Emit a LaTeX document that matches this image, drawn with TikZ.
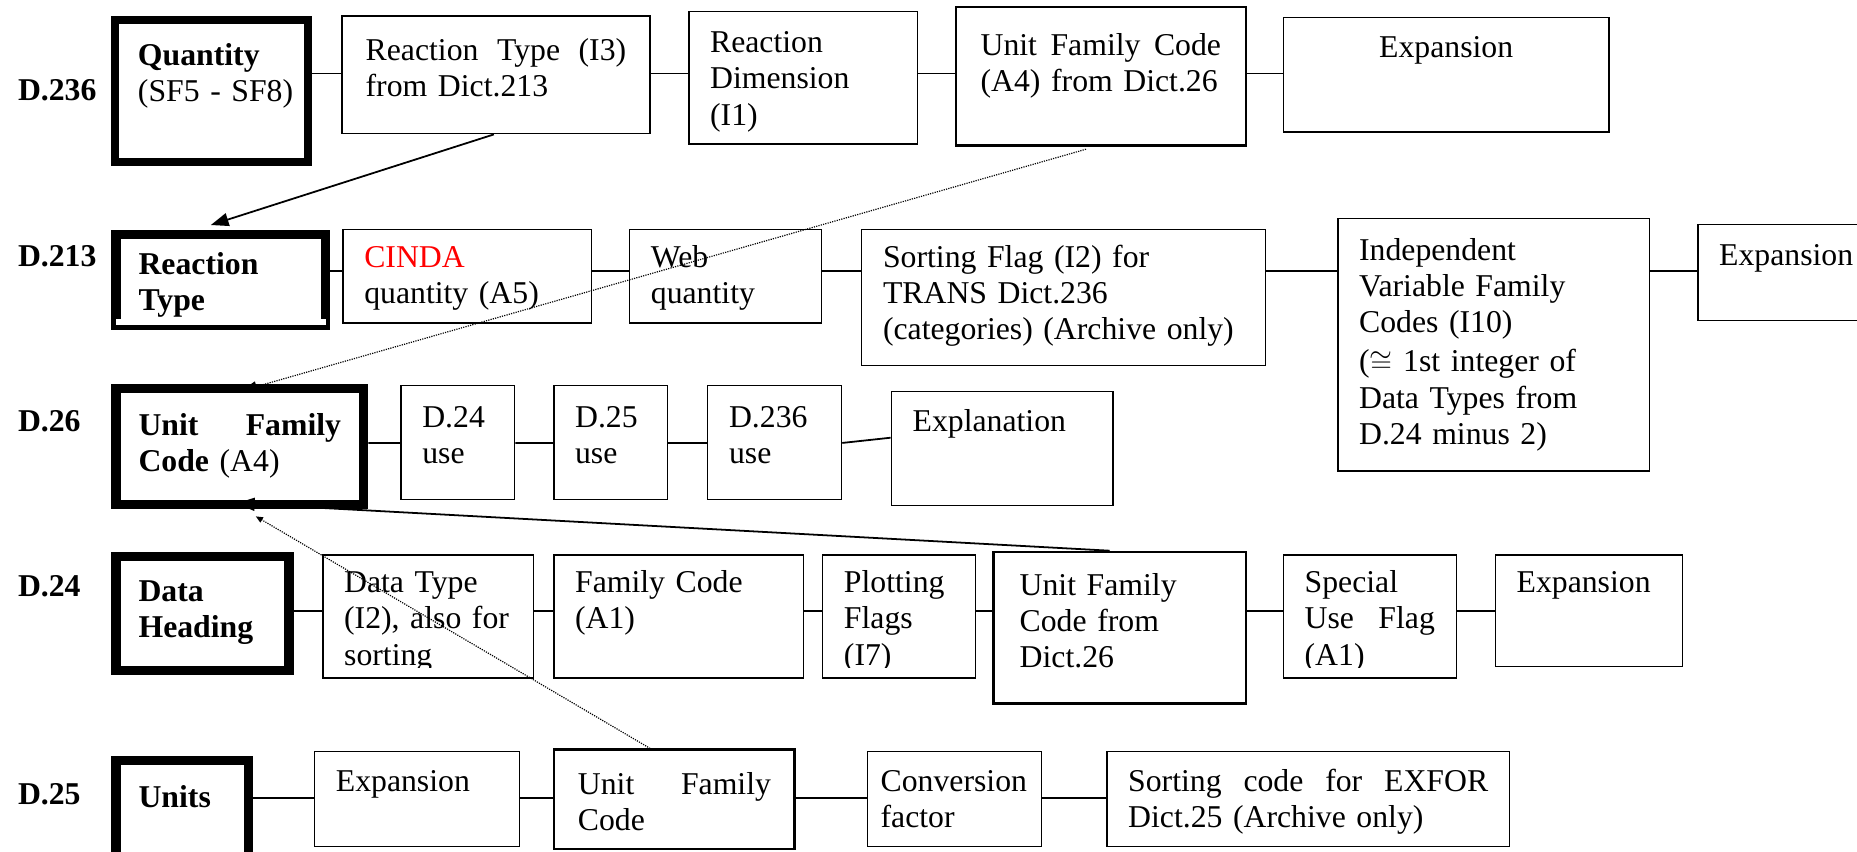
\documentclass[tikz,border=0pt]{standalone}
\usepackage{fontspec}
\setmainfont{Liberation Serif}
\usetikzlibrary{arrows.meta}
\newcommand{\boxfont}{\fontsize{26.8}{30.5}\selectfont}

\begin{document}
\begin{tikzpicture}[x=1pt, y=1pt, font=\boxfont,
    cell/.style={draw, line width=1.2pt, anchor=north west, inner xsep=18pt, inner ysep=0pt, align=left},
    headcell/.style={cell, line width=8pt, inner xsep=19pt, font=\boxfont\bfseries},
    dict/.style={anchor=base west, inner sep=0pt, font=\boxfont\bfseries},
    link/.style={line width=1.5pt},
    ref/.style={line width=1.5pt, -{Triangle[length=15pt, width=11pt]}},
    dref/.style={line width=1pt, densely dotted, -{Triangle[length=13pt, width=9pt]}}]
    \useasboundingbox (0,0) rectangle (1568,-719);
    \clip (0,0) rectangle (1568,-719);

    % dictionary names
    \node[dict] (l236) at (15,-85) {D.236};
    \node[dict] (l213) at (15,-225) {D.213};
    \node[dict] (l26) at (15,-364) {D.26};
    \node[dict] (l24) at (15,-504) {D.24};
    \node[dict] (l25) at (15,-679) {D.25};

    % D.236
    \node[headcell, line width=7pt, inner xsep=19.5pt, text width=124pt, text height=38.5pt, text depth=81.5pt] (q236) at (93.5,-13.5) {Quantity\\{\mdseries\mbox{(SF5 - SF8)}}};
    \node[cell, line width=1.5pt, inner xsep=20pt, text width=220pt, text height=37pt, text depth=62pt] (rt236) at (288,-13) {Reaction\hfill Type\hfill (I3)\\from Dict.213};
    \node[cell, text width=157pt, text height=35pt, text depth=77pt] (rd236) at (581,-9) {Reaction\\Dimension\\(I1)};
    \node[cell, line width=2pt, inner xsep=21pt, text width=203pt, text height=41pt, text depth=76pt] (uf236) at (806,-5) {Unit\hfill Family\hfill Code\\(A4) from Dict.26};
    \node[cell, align=center, text width=239pt, text height=34pt, text depth=63pt] (ex236) at (1083,-14) {Expansion};

    % D.213
    \node[headcell, text width=139pt, text height=34pt, text depth=43pt] (q213) at (94,-194) {Reaction\\Type};
    \node[cell, text width=174pt, text height=32pt, text depth=47pt] (cinda) at (289,-193) {\textcolor{red}{CINDA}\\quantity (A5)};
    \node[cell, text width=126pt, text height=32pt, text depth=47pt] (web) at (531,-193) {Web\\quantity};
    \node[cell, text width=305pt, text height=32pt, text depth=83pt] (sort213) at (727,-193) {Sorting Flag (I2) for\\TRANS Dict.236\\(categories) (Archive only)};
    \node[cell, text width=227pt, text height=35pt, text depth=178pt] (indep) at (1129,-184) {Independent\\Variable Family\\Codes (I10)\\[3pt]($\cong$ 1st integer of\\Data Types from\\D.24 minus 2)};
    \node[cell, text width=124pt, text height=35pt, text depth=46pt] (ex213) at (1433,-189) {Expansion};

    % D.26
    \node[headcell, text width=171pt, text height=40pt, text depth=58pt] (q26) at (94,-324) {Unit\hfill Family\hspace*{5pt}\\Code {\mdseries (A4)}};
    \node[cell, text width=60pt, text height=35pt, text depth=61pt] (u24) at (338,-325) {D.24\\use};
    \node[cell, text width=60pt, text height=35pt, text depth=61pt] (u25) at (467,-325) {D.25\\use};
    \node[cell, text width=77pt, text height=35pt, text depth=61pt] (u236) at (597,-325) {D.236\\use};
    \node[cell, text width=151pt, text height=34pt, text depth=62pt] (expl) at (752,-330) {Explanation};

    % D.24
    \node[headcell, text width=108pt, text height=38pt, text depth=58pt] (q24) at (94,-466) {Data\\Heading};
    \node[cell, text width=142pt, text height=32pt, text depth=72pt] (dtype) at (272,-468) {Data Type\\(I2), also for\\sorting};
    \node[cell, text width=175pt, text height=32pt, text depth=72pt] (fam) at (467,-468) {Family Code\\(A1)};
    \node[cell, text width=93pt, text height=32pt, text depth=72pt] (plot) at (694,-468) {Plotting\\Flags\\(I7)};
    \node[cell, line width=2pt, inner xsep=22pt, text width=169pt, text height=37pt, text depth=91pt] (uf24) at (838,-465) {Unit Family\\Code from\\Dict.26};
    \node[cell, text width=110pt, text height=32pt, text depth=72pt] (spec) at (1083,-468) {Special\\Use\hfill Flag\\(A1)};
    \node[cell, text width=122pt, text height=32pt, text depth=62pt] (ex24) at (1262,-468) {Expansion};

    % D.25
    \node[headcell, text width=74pt, text height=40pt, text depth=51pt] (q25) at (94,-638) {Units};
    \node[cell, text width=137pt, text height=34pt, text depth=46pt] (ex25) at (265,-634) {Expansion};
    \node[cell, line width=2pt, inner xsep=20pt, text width=163pt, text height=38pt, text depth=46pt] (uf25) at (467,-632) {Unit\hfill Family\\Code};
    \node[cell, inner xsep=11pt, text width=125pt, text height=34pt, text depth=46pt] (conv) at (732,-634) {Conversion\\factor};
    \node[cell, text width=304pt, text height=34pt, text depth=46pt] (sort25) at (934,-634) {Sorting\hfill code\hfill for\hfill EXFOR\\Dict.25 (Archive only)};

    % row lines
    \coordinate (r1) at (0,-62);
    \coordinate (r2) at (0,-229);
    \coordinate (r3) at (0,-374);
    \coordinate (r4) at (0,-516);
    \coordinate (r5) at (0,-674);
    \draw[link] (q236.east |- r1) -- (rt236.west |- r1) (rt236.east |- r1) -- (rd236.west |- r1)
        (rd236.east |- r1) -- (uf236.west |- r1) (uf236.east |- r1) -- (ex236.west |- r1);
    \draw[link] (q213.east |- r2) -- (cinda.west |- r2) (cinda.east |- r2) -- (web.west |- r2)
        (web.east |- r2) -- (sort213.west |- r2) (sort213.east |- r2) -- (indep.west |- r2)
        (indep.east |- r2) -- (ex213.west |- r2);
    \draw[link] (q26.east |- r3) -- (u24.west |- r3) (u24.east |- r3) -- (u25.west |- r3)
        (u25.east |- r3) -- (u236.west |- r3) (u236.east |- r3) -- ([yshift=9pt]expl.west);
    \draw[link] (q24.east |- r4) -- (dtype.west |- r4) (dtype.east |- r4) -- (fam.west |- r4)
        (fam.east |- r4) -- (plot.west |- r4) (plot.east |- r4) -- (uf24.west |- r4)
        (uf24.east |- r4) -- (spec.west |- r4) (spec.east |- r4) -- (ex24.west |- r4);
    \draw[link] (q25.east |- r5) -- (ex25.west |- r5) (ex25.east |- r5) -- (uf25.west |- r5)
        (uf25.east |- r5) -- (conv.west |- r5) (conv.east |- r5) -- (sort25.west |- r5);

    % text cut off at the bottom of small boxes
    \fill[white] ([shift={(4pt,5pt)}]q213.south west) rectangle ([shift={(-4pt,9.5pt)}]q213.south east);
    \fill[white] ([shift={(1.5pt,1.5pt)}]dtype.south west) rectangle ([shift={(-1.5pt,9pt)}]dtype.south east);
    \fill[white] ([shift={(1.5pt,1.5pt)}]plot.south west) rectangle ([shift={(-1.5pt,9pt)}]plot.south east);
    \fill[white] ([shift={(1.5pt,1.5pt)}]spec.south west) rectangle ([shift={(-1.5pt,9pt)}]spec.south east);

    % references between dictionaries
    \draw[ref] ([xshift=129pt]rt236.south west) -- ([xshift=84pt, yshift=4pt]q213.north west);
    \draw[dref] ([xshift=111pt, yshift=-2pt]uf236.south west) -- ([xshift=110pt, yshift=-6pt]q26.north west);
    \draw[ref] ([xshift=99pt]uf24.north west) -- ([xshift=106pt, yshift=5pt]q26.south west);
    \draw[dref, -{Triangle[length=6pt, width=5pt]}] ([xshift=82pt]uf25.north west) -- ([xshift=122pt, yshift=-6pt]q26.south west);
\end{tikzpicture}
\end{document}
